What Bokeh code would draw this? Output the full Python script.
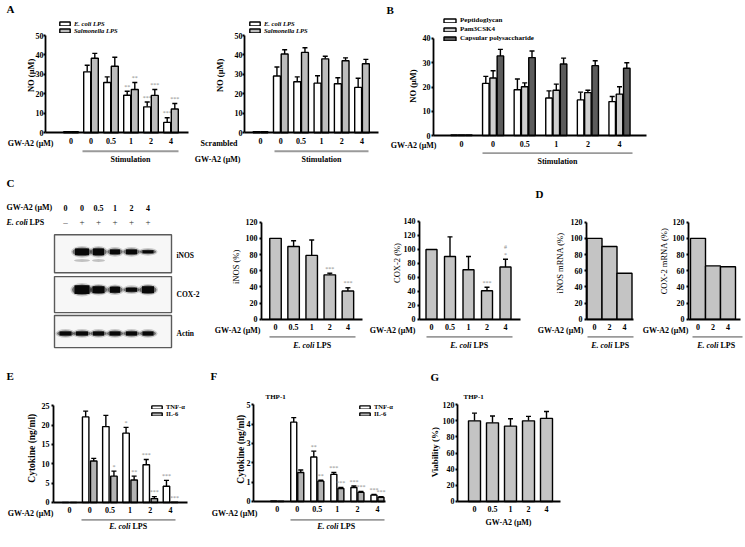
import math
from bokeh.plotting import figure
from bokeh.models import (Range1d, FixedTicker, CustomJSTickFormatter, Whisker, TeeHead,
                          ColumnDataSource, Legend, LegendItem)
from bokeh.layouts import row, column
from bokeh.core.properties import value
from bokeh.embed import file_html
from bokeh.resources import INLINE

FONT = "Liberation Serif"

# ---------------- data ----------------
doses_stim = ["0", "0", "0.5", "1", "2", "4"]   # first group = unstimulated
doses_lps = ["0", "0.5", "1", "2", "4"]
doses_mrna = ["0", "2", "4"]

a1_ecoli = [0.5, 31.3, 25.8, 19.3, 13.3, 5.3]
a1_ecoli_err = [0, 3.4, 2.9, 2.0, 2.5, 2.4]
a1_salm = [0.5, 38.3, 34.2, 22.2, 19.2, 12.2]
a1_salm_err = [0, 2.5, 4.6, 3.6, 3.0, 2.8]
a1_ecoli_sig = ["", "", "", "**", "***", "***"]
a1_salm_sig = ["", "", "", "**", "***", "***"]

a2_ecoli = [0.5, 29.2, 26.2, 25.5, 25.2, 23.3]
a2_ecoli_err = [0, 4.6, 2.5, 3.8, 3.1, 4.7]
a2_salm = [0.5, 40.5, 41.3, 38.0, 37.0, 35.5]
a2_salm_err = [0, 2.2, 2.4, 1.3, 1.5, 2.2]

b_pgn = [0.3, 21.5, 18.9, 15.5, 14.7, 14.0]
b_pgn_err = [0, 2.9, 4.4, 2.9, 3.2, 2.1]
b_pam = [0.3, 23.7, 20.1, 18.7, 17.7, 17.1]
b_pam_err = [0, 3.0, 1.6, 2.5, 1.0, 3.0]
b_cps = [0.3, 32.8, 32.1, 29.5, 28.8, 27.7]
b_cps_err = [0, 2.7, 2.7, 2.4, 2.0, 2.3]

blot_gw = ["0", "0", "0.5", "1", "2", "4"]
blot_lps = ["\u2013", "+", "+", "+", "+", "+"]
blot_inos_w = [0, 16, 13, 12, 13, 13]
blot_inos_h = [0, 7, 7, 5, 5, 3]
blot_inos_lower_h = [0, 3, 3, 0, 0, 0]
blot_cox2_w = [0, 17, 14, 12, 13, 14]
blot_cox2_h = [0, 9, 7, 6, 4, 7]
blot_actin_w = [14, 14, 13, 13, 13, 13]
blot_actin_h = [4, 4, 4, 4, 4, 4]
blot_names = ["iNOS", "COX-2", "Actin"]

c_inos = [100, 90, 79, 55, 35]
c_inos_err = [0, 7, 19, 2, 4]
c_inos_sig = ["", "", "", "***", "***"]
c_cox2 = [100, 90, 71, 41, 75]
c_cox2_err = [0, 28, 19, 5, 11]
c_cox2_sig = ["", "", "", "***", "*"]
c_cox2_sig2 = ["", "", "", "", "#"]

d_inos = [100, 90, 57]
d_cox2 = [100, 66, 65]

e_tnf = [0, 22.1, 19.6, 17.9, 9.75, 4.2]
e_tnf_err = [0, 1.5, 2.9, 1.5, 1.35, 1.5]
e_tnf_sig = ["", "", "", "*", "***", "***"]
e_il6 = [0, 10.7, 6.8, 5.8, 1.0, 0.1]
e_il6_err = [0, 0.7, 1.3, 1.0, 0.5, 0]
e_il6_sig = ["", "", "*", "**", "***", "***"]

f_tnf = [0.03, 4.1, 2.3, 1.4, 0.72, 0.33]
f_tnf_err = [0, 0.23, 0.3, 0.1, 0.08, 0.04]
f_tnf_sig = ["", "", "**", "***", "***", "***"]
f_il6 = [0.02, 1.5, 1.05, 0.67, 0.47, 0.22]
f_il6_err = [0, 0.13, 0.05, 0.05, 0.05, 0.03]
f_il6_sig = ["", "", "**", "***", "***", "***"]

g_via = [100, 97.5, 93.5, 100, 103]
g_via_err = [9.5, 8.5, 9, 5.5, 8.5]

# ---------------- styles / layout ----------------
WHITE = "#ffffff"
GRAY = "#c4c4c4"
GRAY_A = "#bdbdbd"
LIGHT = "#cfcfcf"
DARK = "#5c5c5c"
IL6 = "#b3b3b3"
STAR = "#8a8a8a"

# rows: (top, bottom) in reference pixels, and rendered pixel height
ROW1 = (0, 180, 175)
ROW2 = (180, 360, 175)
ROW3 = (360, 547, 181)


def make_chart(ox0, ox1, rowdef, fx0, fx1, fbot, ymax, ymax_ref, ystep,
               xc0, xstep, xlabels, ylab_standoff=1):
    rtop, rbot, rh = rowdef
    ppu = (fbot - ymax_ref) / ymax

    def X(rx):
        return (rx - xc0) / xstep

    def Y(ry):
        return (fbot - ry) / ppu

    p = figure(width=int(ox1 - ox0), height=rh,
               x_range=Range1d(X(ox0), X(ox1)), y_range=Range1d(Y(rbot), Y(rtop)),
               min_border=0, toolbar_location=None, output_backend="svg", title=None)
    p.outline_line_color = None
    p.grid.visible = False
    p.background_fill_color = "white"
    p.border_fill_color = "white"
    for ax in p.axis:
        ax.axis_line_width = 1.8
        ax.axis_line_color = "black"
        ax.major_label_text_font = FONT
        ax.major_label_text_font_style = "bold"
        ax.major_label_text_font_size = "8px"
        ax.major_label_text_color = "black"
        ax.minor_tick_line_color = None
    ya = p.yaxis[0]
    ya.fixed_location = X(fx0)
    ya.ticker = FixedTicker(ticks=list(range(0, ymax + 1, ystep)))
    ya.bounds = (0, ymax)
    ya.major_tick_line_width = 1.8
    ya.major_tick_line_color = "black"
    ya.major_tick_out = 2
    ya.major_tick_in = 0
    ya.major_label_standoff = ylab_standoff
    xa = p.xaxis[0]
    xa.fixed_location = 0
    xa.bounds = (X(fx0), X(fx1))
    xa.ticker = FixedTicker(ticks=list(range(len(xlabels))))
    xa.formatter = CustomJSTickFormatter(args=dict(labels=list(xlabels)),
                                         code="return labels[Math.round(tick)];")
    xa.major_tick_line_color = None
    xa.major_tick_out = 0
    xa.major_tick_in = 0
    xa.major_label_standoff = 5
    return p, X, Y, ppu


def bars(p, xs, vals, errs, width, color, ppu, sig=None, sig2=None):
    r = p.vbar(x=xs, top=vals, bottom=0, width=width, fill_color=color,
               line_color="black", line_width=1.4)
    ex, lo, hi = [], [], []
    for x, v, e in zip(xs, vals, errs):
        if e > 0:
            ex.append(x)
            lo.append(v)
            hi.append(v + e)
    if ex:
        p.add_layout(Whisker(source=ColumnDataSource(dict(base=ex, lower=lo, upper=hi)),
                             base="base", lower="lower", upper="upper",
                             line_color="black", line_width=1.4,
                             upper_head=TeeHead(size=5, line_color="black", line_width=1.4),
                             lower_head=None))
    for k, marks in enumerate([sig, sig2]):
        if not marks:
            continue
        sx, sy, st = [], [], []
        for x, v, e, s in zip(xs, vals, errs, marks):
            if s:
                sx.append(x)
                sy.append(v + e + (1.5 + 8 * k) / ppu)
                st.append(s)
        p.text(x=sx, y=sy, text=st, text_font=value(FONT), text_font_size="6px",
               text_color=STAR, text_align="center", text_baseline="bottom")
    return r


def txt(p, x, y, text, size="8px", style="bold", align="center", baseline="middle",
        color="black", x_offset=0, angle=0.0):
    p.text(x=[x], y=[y], text=[text], text_font=value(FONT), text_font_size=size,
           text_font_style=style, text_align=align, text_baseline=baseline,
           text_color=color, x_offset=x_offset, angle=angle)


def ylab(p, x, y, text, size="8.5px", style="bold"):
    txt(p, x, y, text, size=size, style=style, angle=math.pi / 2)


def letter(p, x, y, text):
    txt(p, x, y, text, size="11px", style="bold", align="left")


def ecoli(p, x, y, size="8px"):
    txt(p, x, y, "E. coli", size=size, style="bold italic", align="right", x_offset=2)
    txt(p, x, y, "LPS", size=size, style="bold", align="left", x_offset=4)


def underline(p, x0, x1, ytop, ybot):
    p.quad(left=[x0], right=[x1], top=[ytop], bottom=[ybot], fill_color="#9a9a9a",
           line_color=None)


def legend(p, rowdef, items, vx, bottom_ref, gw, gh, lh, size="7px", style="bold"):
    rtop, rbot, rh = rowdef
    vy = (rbot - bottom_ref) * rh / (rbot - rtop)
    leg = Legend(items=[LegendItem(label=t, renderers=[r]) for t, r in items],
                 location=(vx, vy), glyph_width=gw, glyph_height=gh, label_height=lh,
                 label_width=10, spacing=0, padding=0, margin=0, label_standoff=3,
                 label_text_font=FONT, label_text_font_size=size,
                 label_text_font_style=style, label_text_color="black",
                 background_fill_alpha=0, border_line_alpha=0)
    p.add_layout(leg)


# ================= Row 1 =================
n6 = len(doses_stim)

# A left
pA1, X, Y, ppu = make_chart(0, 192, ROW1, 45, 188, 136, 50, 36, 10,
                            70.5, 20, doses_stim, ylab_standoff=0)
r1 = bars(pA1, [i - 0.19 for i in range(n6)], a1_ecoli, a1_ecoli_err, 0.35, WHITE, ppu, a1_ecoli_sig)
r2 = bars(pA1, [i + 0.19 for i in range(n6)], a1_salm, a1_salm_err, 0.35, GRAY_A, ppu, a1_salm_sig)
legend(pA1, ROW1, [("E. coli LPS", r1), ("Salmonella LPS", r2)], 58, 34.8, 13, 5, 7,
       size="6.5px", style="bold italic")
ylab(pA1, X(30), Y(77), "NO (\u03bcM)")
txt(pA1, X(53), Y(147), "GW-A2 (\u03bcM)", align="right")
underline(pA1, X(82), X(178), Y(154), Y(156))
txt(pA1, X(130), Y(163.5), "Stimulation")
letter(pA1, X(6), Y(9), "A")

# A right
pA2, X, Y, ppu = make_chart(192, 380, ROW1, 244, 378, 136, 50, 36, 10,
                            260, 20.3, doses_stim, ylab_standoff=0)
r1 = bars(pA2, [i - 0.19 for i in range(n6)], a2_ecoli, a2_ecoli_err, 0.34, WHITE, ppu)
r2 = bars(pA2, [i + 0.19 for i in range(n6)], a2_salm, a2_salm_err, 0.34, GRAY_A, ppu)
legend(pA2, ROW1, [("E. coli LPS", r1), ("Salmonella LPS", r2)], 248 - 192, 34.8, 13, 5, 7,
       size="6.5px", style="bold italic")
ylab(pA2, X(219), Y(77), "NO (\u03bcM)")
txt(pA2, X(237), Y(147), "Scrambled", align="right")
txt(pA2, X(240), Y(163.5), "GW-A2 (\u03bcM)", align="right")
underline(pA2, X(274), X(368), Y(154), Y(156))
txt(pA2, X(321), Y(163.5), "Stimulation")

# B
pB, X, Y, ppu = make_chart(380, 745, ROW1, 433, 646, 139, 40, 39, 10,
                           461, 31.6, doses_stim)
ob = 7.3 / 31.6
wb = 6.5 / 31.6
r1 = bars(pB, [i - ob for i in range(n6)], b_pgn, b_pgn_err, wb, WHITE, ppu)
r2 = bars(pB, [i for i in range(n6)], b_pam, b_pam_err, wb, LIGHT, ppu)
r3 = bars(pB, [i + ob for i in range(n6)], b_cps, b_cps_err, wb, DARK, ppu)
legend(pB, ROW1, [("Peptidoglycan", r1), ("Pam3CSK4", r2), ("Capsular polysaccharide", r3)],
       442 - 380, 44.2, 15, 5, 9, size="7px")
ylab(pB, X(412), Y(88), "NO (\u03bcM)")
txt(pB, X(436), Y(149.5), "GW-A2 (\u03bcM)", align="right")
underline(pB, X(482), X(632), Y(156), Y(158))
txt(pB, X(557), Y(166), "Stimulation")
letter(pB, X(386), Y(10), "B")

# ================= Row 2 =================
# Blot
LANE0, LANE_STEP = 65, 16.5


def BX(rx):
    return (rx - LANE0) / LANE_STEP


def BY(ry):
    return ROW2[1] - ry


pBl = figure(width=212, height=ROW2[2], x_range=Range1d(BX(0), BX(212)),
             y_range=Range1d(0, ROW2[1] - ROW2[0]),
             x_axis_type=None, y_axis_type=None, min_border=0, toolbar_location=None,
             output_backend="svg", title=None)
pBl.outline_line_color = None
pBl.background_fill_color = "white"
pBl.border_fill_color = "white"
lanes = list(range(len(blot_gw)))
box_tops = [241, 284, 324]
box_bots = [280, 321, 357]
pBl.quad(left=[BX(54)] * 3, right=[BX(171)] * 3, top=[BY(t) for t in box_tops],
         bottom=[BY(b) for b in box_bots], fill_color="#f7f7f7", line_color="#5a5a5a", line_width=1.4)
band_rows = [(258.5, blot_inos_w, blot_inos_h), (297.5, blot_cox2_w, blot_cox2_h),
             (342.5, blot_actin_w, blot_actin_h)]
for yc, ws, hs in band_rows:
    pBl.ellipse(x=lanes, y=[BY(yc)] * len(lanes), width=[(w + 6) / LANE_STEP if w else 0 for w in ws],
                height=[h + 5 if h else 0 for h in hs], fill_color="#333333", fill_alpha=0.22, line_color=None)
    pBl.ellipse(x=lanes, y=[BY(yc)] * len(lanes), width=[(w + 3) / LANE_STEP if w else 0 for w in ws],
                height=[h + 2 if h else 0 for h in hs], fill_color="#111111", fill_alpha=0.5, line_color=None)
    pBl.rect(x=lanes, y=[BY(yc)] * len(lanes), width=[(w - 2) / LANE_STEP if w else 0 for w in ws],
             height=hs, fill_color="#080808", line_color=None)
pBl.ellipse(x=lanes, y=[BY(267.5)] * len(lanes), width=[w / LANE_STEP for w in blot_inos_w],
            height=blot_inos_lower_h, fill_color="#444444", fill_alpha=0.3, line_color=None)
txt(pBl, BX(6), BY(213), "GW-A2 (\u03bcM)", align="left")
pBl.text(x=lanes, y=[BY(213)] * len(lanes), text=blot_gw, text_font=value(FONT), text_font_size="8px",
         text_font_style="bold", text_align="center", text_baseline="middle")
txt(pBl, BX(6), BY(228), "E. coli", style="bold italic", align="left")
txt(pBl, BX(29), BY(228), "LPS", align="left")
pBl.text(x=lanes, y=[BY(228)] * len(lanes), text=blot_lps, text_font=value(FONT), text_font_size="9px",
         text_align="center", text_baseline="middle", text_color="#333333")
pBl.text(x=[BX(176)] * 3, y=[BY(262), BY(302), BY(343)], text=blot_names, text_font=value(FONT),
         text_font_size="7.5px", text_font_style="bold", text_align="left", text_baseline="middle")
letter(pBl, BX(6), BY(188), "C")

# C iNOS
n5 = len(doses_lps)
pC1, X, Y, ppu = make_chart(212, 365, ROW2, 261, 362, 328, 120, 228, 20,
                            275, 18.1, doses_lps, ylab_standoff=2)
bars(pC1, list(range(n5)), c_inos, c_inos_err, 11.5 / 18.1, GRAY, ppu, c_inos_sig)
ylab(pC1, X(235), Y(274), "iNOS (%)", style="normal")
txt(pC1, X(260), Y(339), "GW-A2 (\u03bcM)", align="right")
underline(pC1, X(269), X(355), Y(345), Y(347))
ecoli(pC1, X(312), Y(355))

# C COX-2
pC2, X, Y, ppu = make_chart(365, 527, ROW2, 419, 520, 328, 140, 227.3, 20,
                            431, 18.5, doses_lps, ylab_standoff=2)
bars(pC2, list(range(n5)), c_cox2, c_cox2_err, 11 / 18.5, GRAY, ppu, c_cox2_sig, c_cox2_sig2)
ylab(pC2, X(396), Y(270), "COX-2 (%)", style="normal")
txt(pC2, X(415), Y(339), "GW-A2 (\u03bcM)", align="right")
underline(pC2, X(426), X(512), Y(345), Y(347))
ecoli(pC2, X(469), Y(355))

# D iNOS mRNA
n3 = len(doses_mrna)
pD1, X, Y, ppu = make_chart(527, 638, ROW2, 586, 633, 328, 120, 228, 20,
                            594, 15, doses_mrna, ylab_standoff=2)
bars(pD1, list(range(n3)), d_inos, [0] * n3, 1.0, GRAY, ppu)
ylab(pD1, X(559), Y(270), "iNOS mRNA (%)", style="normal")
txt(pD1, X(583), Y(339), "GW-A2 (\u03bcM)", align="right")
underline(pD1, X(587), X(633), Y(345), Y(347))
ecoli(pD1, X(610), Y(355))
letter(pD1, X(535), Y(199), "D")

# D COX-2 mRNA
pD2, X, Y, ppu = make_chart(638, 745, ROW2, 688, 740, 328, 120, 228, 20,
                            697.5, 15, doses_mrna, ylab_standoff=2)
bars(pD2, list(range(n3)), d_cox2, [0] * n3, 1.0, GRAY, ppu)
ylab(pD2, X(663), Y(268), "COX-2 mRNA (%)", style="normal")
txt(pD2, X(688), Y(339), "GW-A2 (\u03bcM)", align="right")
underline(pD2, X(692), X(742), Y(345), Y(347))
ecoli(pD2, X(716), Y(355))

# ================= Row 3 =================
# E
pE, X, Y, ppu = make_chart(0, 205, ROW3, 53, 187, 517, 25, 417, 5,
                           69, 20.2, doses_stim, ylab_standoff=2)
r1 = bars(pE, [i - 0.2 for i in range(n6)], e_tnf, e_tnf_err, 0.32, WHITE, ppu, e_tnf_sig)
r2 = bars(pE, [i + 0.2 for i in range(n6)], e_il6, e_il6_err, 0.32, IL6, ppu, e_il6_sig)
legend(pE, ROW3, [("TNF-\u03b1", r1), ("IL-6", r2)], 150, 429.5, 13, 4, 7, size="6.5px")
ylab(pE, X(31), Y(461), "Cytokine (ng/ml)", size="9.5px")
txt(pE, X(53), Y(528), "GW-A2 (\u03bcM)", align="right")
underline(pE, X(81), X(175), Y(534), Y(536))
ecoli(pE, X(128), Y(542))
letter(pE, X(6), Y(386), "E")

# F
pF, X, Y, ppu = make_chart(205, 412, ROW3, 253, 385, 516, 5, 416, 1,
                           276.7, 20.05, doses_stim, ylab_standoff=1)
r1 = bars(pF, [i - 0.175 for i in range(n6)], f_tnf, f_tnf_err, 0.3, WHITE, ppu, f_tnf_sig)
r2 = bars(pF, [i + 0.175 for i in range(n6)], f_il6, f_il6_err, 0.3, IL6, ppu, f_il6_sig)
legend(pF, ROW3, [("TNF-\u03b1", r1), ("IL-6", r2)], 358 - 205, 429.5, 13, 4, 7, size="6.5px")
ylab(pF, X(240), Y(462), "Cytokine (ng/ml)", size="9.5px")
txt(pF, X(265), Y(408), "THP-1", size="7px", align="left")
txt(pF, X(257), Y(528), "GW-A2 (\u03bcM)", align="right")
underline(pF, X(290), X(384), Y(534), Y(536))
ecoli(pF, X(336), Y(542))
letter(pF, X(210), Y(386), "F")

# G
pG, X, Y, ppu = make_chart(412, 745, ROW3, 457, 560, 516, 120, 416, 20,
                           474, 18, doses_lps, ylab_standoff=1)
bars(pG, list(range(n5)), g_via, g_via_err, 12 / 18, GRAY, ppu)
ylab(pG, X(434), Y(465), "Viability (%)", size="9px")
txt(pG, X(463), Y(408), "THP-1", size="7px", align="left")
txt(pG, X(508), Y(538), "GW-A2 (\u03bcM)")
letter(pG, X(430), Y(387), "G")

layout = column(row(pA1, pA2, pB), row(pBl, pC1, pC2, pD1, pD2), row(pE, pF, pG))
open("out.html", "w").write(file_html(layout, INLINE))
